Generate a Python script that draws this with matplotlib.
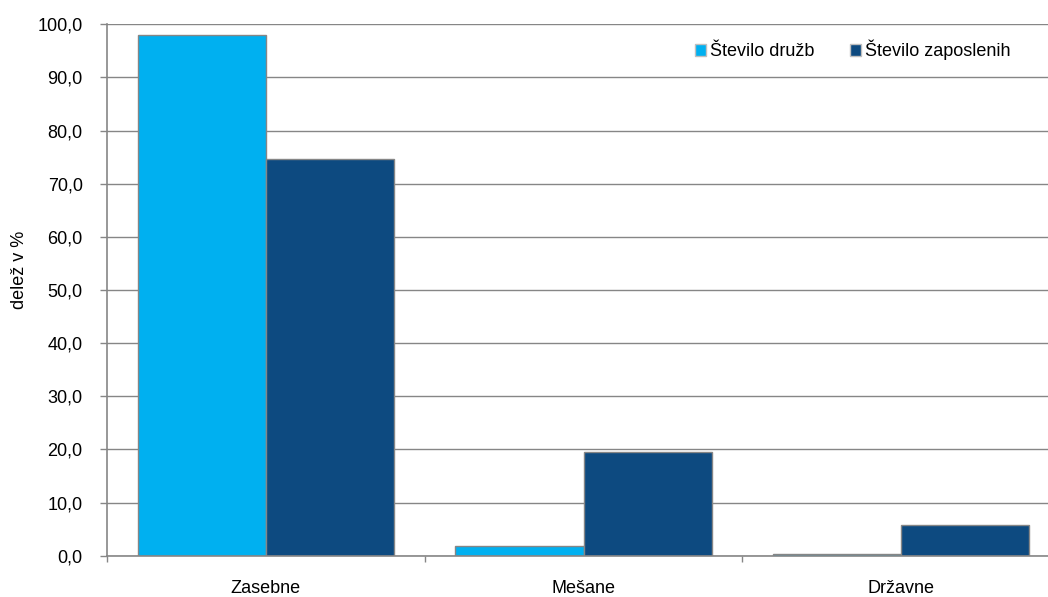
import numpy as np
import matplotlib
matplotlib.use('Agg')
import matplotlib.pyplot as plt
from matplotlib.ticker import FixedLocator, FuncFormatter

plt.rcParams['font.family'] = ['Liberation Sans', 'DejaVu Sans']

# data
categories = ['Zasebne', 'Mešane', 'Državne']
series_names = ['Število družb', 'Število zaposlenih']
stevilo_druzb = [97.9, 1.8, 0.4]
stevilo_zaposlenih = [74.7, 19.6, 5.8]
y_ticks = np.arange(0, 101, 10)

col_light = '#00B0F0'
col_dark = '#0D4A80'
col_grid = '#868686'
fs = 13

fig = plt.figure(figsize=(10.48, 5.97), dpi=100)
# plot area runs slightly past the right edge of the image, like the original
ax = fig.add_axes([107/1048, 41.3/597, 953/1048, 531.4/597])

x = np.arange(len(categories))
w = 0.403
ax.bar(x - w/2, stevilo_druzb, w, color=col_light, edgecolor=col_grid, linewidth=1.0,
       label=series_names[0], zorder=3)
ax.bar(x + w/2, stevilo_zaposlenih, w, color=col_dark, edgecolor=col_grid, linewidth=1.0,
       label=series_names[1], zorder=3)

ax.set_xlim(-0.5, 2.5)
ax.set_ylim(0, 100)
ax.set_yticks(y_ticks)
ax.yaxis.set_major_formatter(FuncFormatter(lambda v, p: f'{v:.1f}'.replace('.', ',')))
ax.yaxis.grid(True, color=col_grid, linewidth=1.0, zorder=0)

ax.set_xticks(x)
ax.set_xticklabels(categories)
ax.xaxis.set_minor_locator(FixedLocator([-0.5, 0.5, 1.5, 2.5]))
ax.tick_params(axis='x', which='major', length=0, pad=17.5, labelsize=fs)
ax.tick_params(axis='x', which='minor', length=4, width=1, color=col_grid, direction='out')
ax.tick_params(axis='y', length=5, width=1, color=col_grid, direction='out', pad=12.5, labelsize=fs)

for s in ['top', 'right']:
    ax.spines[s].set_visible(False)
for s in ['left', 'bottom']:
    ax.spines[s].set_color(col_grid)
    ax.spines[s].set_linewidth(1.2)
    ax.spines[s].set_zorder(4)

fig.text(20/1048, 1 - 270/597, 'delež v %', rotation=90, ha='center', va='center', fontsize=fs)

leg = ax.legend(loc='center right', bbox_to_anchor=(1010/1048, 1 - 50/597),
                bbox_transform=fig.transFigure, ncol=2, frameon=False, fontsize=fs,
                handlelength=0.6, handleheight=0.6, handletextpad=0.22,
                columnspacing=1.95, borderpad=0, borderaxespad=0)
for h in leg.legend_handles:
    h.set_edgecolor('#bfbfbf')

fig.savefig('out.png', dpi=100)
